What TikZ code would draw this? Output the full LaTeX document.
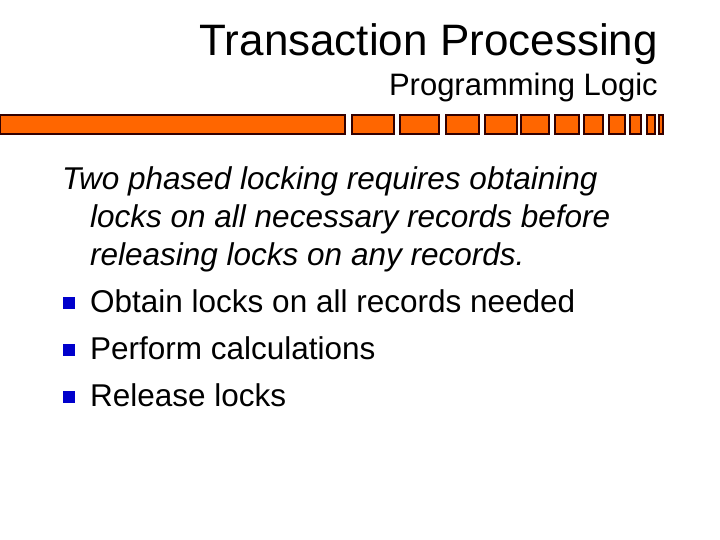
\documentclass[tikz,border=0pt]{standalone}
\usepackage{fontspec}
\setmainfont{Liberation Sans}
\usetikzlibrary{positioning}
\definecolor{barorange}{RGB}{255,102,0}
\definecolor{bulletblue}{RGB}{0,0,204}
\tikzset{
    barblock/.style = {
        draw=black!80!red,
        line width=1.5pt,
        fill=barorange},
    bodyline/.style = {
        anchor=base west,
        font=\fontsize{31.5}{34}\selectfont,
        inner sep=0pt},
    bulletmark/.style = {
        fill=bulletblue,
        minimum size=12pt,
        inner sep=0pt}
}
\begin{document}
\begin{tikzpicture}[x=1pt, y=-1pt]
\useasboundingbox (0,0) rectangle (720,540);

% title block
\node (title) [anchor=base east, inner sep=0pt, font=\fontsize{44}{48}\selectfont]
    at (658,56) {Transaction Processing};
\node (subtitle) [anchor=base east, inner sep=0pt, font=\fontsize{31}{34}\selectfont]
    at (658,96) {Programming Logic};

% orange bar
\foreach \xa/\xb in {0/345, 352/394, 400/439, 446/479, 485/517, 521/549,
                     555/579, 584/603, 609/625, 630/641, 647/655, 659/663}
    \draw [barblock] (\xa,115) rectangle (\xb,134);

% body text
\node (intro1) [bodyline] at (62,190)  {\itshape Two phased locking requires obtaining};
\node (intro2) [bodyline] at (90,227)  {\itshape locks on all necessary records before};
\node (intro3) [bodyline] at (90,265)  {\itshape releasing locks on any records.};
\node (item1)  [bodyline] at (90,312)  {Obtain locks on all records needed};
\node (item2)  [bodyline] at (90,359)  {Perform calculations};
\node (item3)  [bodyline] at (90,406)  {Release locks};

% bullets
\foreach \n in {1,2,3}
    \node (dot\n) [bulletmark, left=15pt of item\n.base west, yshift=9pt] {};

\end{tikzpicture}
\end{document}
